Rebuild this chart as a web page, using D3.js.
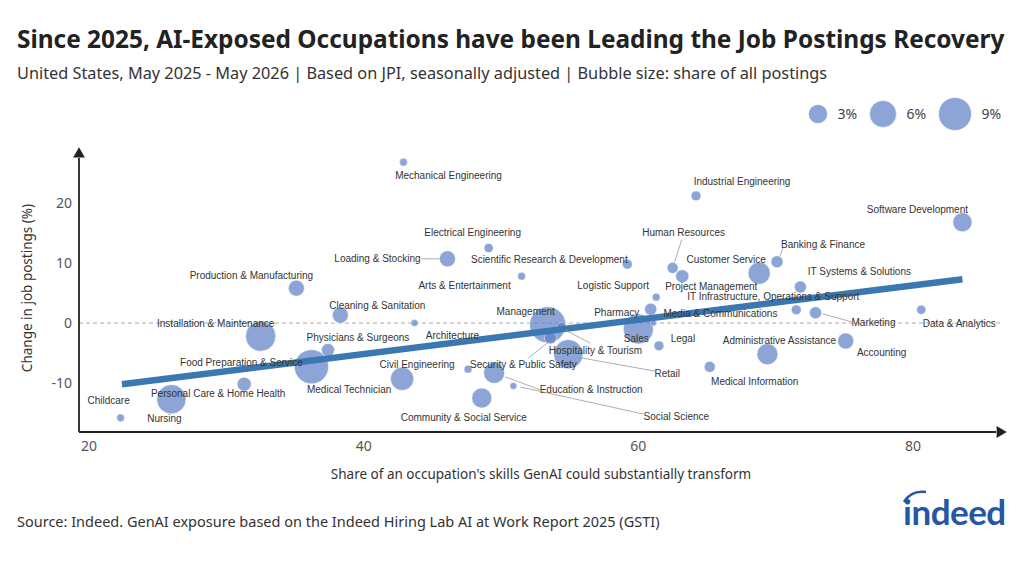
<!DOCTYPE html>
<html>
<head>
<meta charset="utf-8">
<script src="https://cdn.jsdelivr.net/npm/d3@7"></script>
<style>
  body { margin: 0; background: #fff; }
  svg { display: block; }
</style>
</head>
<body>
<svg id="chart" width="1024" height="585"></svg>
<script>
// occupation data
const occupations = [
  "Childcare", "Nursing", "Personal Care & Home Health", "Installation & Maintenance",
  "Food Preparation & Service", "Physicians & Surgeons", "Production & Manufacturing",
  "Cleaning & Sanitation", "Medical Technician", "Architecture", "Mechanical Engineering",
  "Loading & Stocking", "Electrical Engineering", "Arts & Entertainment",
  "Scientific Research & Development", "Civil Engineering", "Education & Instruction",
  "Social Science", "Community & Social Service", "Management", "Hospitality & Tourism",
  "Security & Public Safety", "Retail", "Sales", "Legal", "Pharmacy", "Logistic Support",
  "Media & Communications", "Human Resources", "Project Management", "Industrial Engineering",
  "Customer Service", "Banking & Finance", "IT Systems & Solutions",
  "IT Infrastructure, Operations & Support", "Marketing", "Data & Analytics",
  "Software Development", "Administrative Assistance", "Accounting", "Medical Information",
]
const aiExposure = [
  22.3, 26.0, 31.3, 32.5, 36.2, 37.4, 35.1, 38.3, 42.8, 43.7, 42.9,
  46.1, 49.1, 51.5, 59.2, 47.6, 49.5, 50.9, 48.6, 53.4, 54.4,
  53.6, 54.9, 60.0, 61.5, 60.9, 61.3, 61.1, 62.5, 63.2, 64.2,
  68.8, 70.1, 71.8, 71.5, 72.9, 80.6, 83.6, 69.4, 75.1, 65.2,
]
const postingsChange = [
  -15.8, -12.7, -10.2, -2.2, -7.3, -4.5, 5.8, 1.3, -9.3, 0.0, 26.8,
  10.7, 12.5, 7.8, 9.8, -7.7, -8.3, -10.5, -12.5, -0.3, -0.7,
  -2.5, -5.2, -1.0, -3.8, 2.3, 4.3, 0.0, 9.2, 7.8, 21.2,
  8.3, 10.2, 6.0, 2.2, 1.7, 2.2, 16.8, -5.2, -3.0, -7.3,
]
const postingShare = [
  0.5, 7.0, 1.6, 7.4, 9.6, 1.4, 2.1, 2.1, 4.4, 0.4, 0.5,
  2.1, 0.7, 0.5, 0.8, 0.5, 3.6, 0.4, 3.3, 10.7, 0.8,
  1.2, 7.0, 7.4, 0.8, 1.2, 0.5, 0.3, 1.0, 1.4, 0.8,
  4.0, 1.2, 1.2, 0.8, 1.2, 0.7, 3.0, 3.6, 2.1, 1.0,
]
const trendExposure = [22.4, 83.6]
const trendChange = [-10.2, 7.3]
const xTicks = [20, 40, 60, 80]
const yTicks = [-10, 0, 10, 20]
const legendShares = [3, 6, 9]

const TITLE = "Since 2025, AI-Exposed Occupations have been Leading the Job Postings Recovery"
const SUBTITLE = "United States, May 2025 - May 2026 | Based on JPI, seasonally adjusted | Bubble size: share of all postings"
const SOURCE = "Source: Indeed. GenAI exposure based on the Indeed Hiring Lab AI at Work Report 2025 (GSTI)"

// label placement (pixel offsets from bubble centre), and leader lines
const labelPos = {
  "Childcare": [-12, -17], "Nursing": [-7, 19], "Personal Care & Home Health": [-26, 9],
  "Installation & Maintenance": [-45, -13], "Food Preparation & Service": [-70, -4],
  "Physicians & Surgeons": [30, -13], "Production & Manufacturing": [-45, -13],
  "Cleaning & Sanitation": [37, -10], "Medical Technician": [-53, 11],
  "Architecture": [38, 12], "Mechanical Engineering": [45, 13],
  "Loading & Stocking": [-70, 0], "Electrical Engineering": [-16, -16],
  "Arts & Entertainment": [-57, 9], "Scientific Research & Development": [-78, -5],
  "Civil Engineering": [-51, -5], "Education & Instruction": [97, 17],
  "Social Science": [163, 30], "Community & Social Service": [-18, 19],
  "Management": [-22, -13], "Hospitality & Tourism": [34, 23],
  "Security & Public Safety": [-27, 26], "Retail": [99, 19], "Sales": [-2, 9],
  "Legal": [24, -7], "Pharmacy": [-34, 3], "Logistic Support": [-43, -12],
  "Media & Communications": [67, -10], "Human Resources": [11, -35],
  "Project Management": [29, 10], "Industrial Engineering": [46, -14],
  "Customer Service": [-33, -14], "Banking & Finance": [46, -17],
  "IT Systems & Solutions": [59, -16], "IT Infrastructure, Operations & Support": [-23, -13],
  "Marketing": [58, 10], "Data & Analytics": [38, 14], "Software Development": [-45, -13],
  "Administrative Assistance": [12, -14], "Accounting": [36, 11], "Medical Information": [45, 15],
}
const leaders = {
  "Loading & Stocking": [-26, 0, -8, 0],
  "Education & Instruction": [11, 4, 46, 17],
  "Social Science": [7, 1, 130, 28],
  "Hospitality & Tourism": [4, 3, 29, 16],
  "Security & Public Safety": [-2, 4, -22, 20],
  "Retail": [9, 3, 87, 17],
  "Human Resources": [2, -6, 9, -28],
  "Banking & Finance": [3, -6, 6, -14],
  "Marketing": [7, 1, 36, 9],
}

const svg = d3.select("#chart")
const sans = "'Noto Sans', 'Open Sans', sans-serif"
const arial = "'Liberation Sans', Arial, sans-serif"

const x = d3.scaleLinear().domain([20, 80]).range([89, 913])
const y = d3.scaleLinear().domain([-10, 20]).range([383, 203])
const r = d3.scaleSqrt().domain([0, 9]).range([0, 16.5])

const axisX0 = 79
const axisY0 = 432
const blue = "#5b7fc4"

// title block
svg.append("text").attr("x", 17).attr("y", 48)
  .attr("font-family", sans).attr("font-weight", "bold").attr("font-size", 24.4)
  .attr("fill", "#222").text(TITLE)
svg.append("text").attr("x", 17).attr("y", 79)
  .attr("font-family", sans).attr("font-size", 16.3).attr("fill", "#333").text(SUBTITLE)

// legend
const legendX = [818, 883, 955]
legendShares.forEach((s, i) => {
  svg.append("circle").attr("cx", legendX[i]).attr("cy", 114).attr("r", r(s))
    .attr("fill", blue).attr("fill-opacity", 0.7).attr("stroke", "#fff").attr("stroke-width", 0.6)
  svg.append("text").attr("x", legendX[i] + r(s) + 10).attr("y", 114).attr("dy", "0.35em")
    .attr("font-family", sans).attr("font-size", 14).attr("fill", "#444").text(s + "%")
})

// zero line
svg.append("line").attr("x1", axisX0).attr("x2", 1000).attr("y1", y(0)).attr("y2", y(0))
  .attr("stroke", "#aaa").attr("stroke-dasharray", "4,3")

// ticks
xTicks.forEach((t) => {
  svg.append("text").attr("x", x(t)).attr("y", 451).attr("text-anchor", "middle")
    .attr("font-family", sans).attr("font-size", 14).attr("fill", "#555").text(t)
})
yTicks.forEach((t) => {
  svg.append("text").attr("x", 72).attr("y", y(t)).attr("dy", "0.35em").attr("text-anchor", "end")
    .attr("font-family", sans).attr("font-size", 14).attr("fill", "#555").text(t)
})

// axis titles
svg.append("text").attr("x", 541).attr("y", 479).attr("text-anchor", "middle")
  .attr("font-family", sans).attr("font-size", 13.5).attr("fill", "#333")
  .text("Share of an occupation's skills GenAI could substantially transform")
svg.append("text").attr("transform", "translate(32, 288) rotate(-90)").attr("text-anchor", "middle")
  .attr("font-family", sans).attr("font-size", 13.5).attr("fill", "#333")
  .text("Change in job postings (%)")

// bubbles
const data = occupations.map((name, i) => ({
  name, ai: aiExposure[i], change: postingsChange[i], share: postingShare[i],
}))
svg.append("g").selectAll("circle")
  .data(data.slice().sort((a, b) => b.share - a.share))
  .join("circle")
  .attr("cx", (d) => x(d.ai)).attr("cy", (d) => y(d.change)).attr("r", (d) => r(d.share))
  .attr("fill", blue).attr("fill-opacity", 0.7)
  .attr("stroke", "#fff").attr("stroke-opacity", 0.7).attr("stroke-width", 0.6)

// trend line
svg.append("path")
  .attr("d", d3.line()(trendExposure.map((v, i) => [x(v), y(trendChange[i])])))
  .attr("stroke", "#3b77b0").attr("stroke-width", 6.5).attr("fill", "none")

// leader lines and labels
data.forEach((d) => {
  const cx = x(d.ai), cy = y(d.change)
  const ld = leaders[d.name]
  if (ld) {
    svg.append("line").attr("x1", cx + ld[0]).attr("y1", cy + ld[1])
      .attr("x2", cx + ld[2]).attr("y2", cy + ld[3])
      .attr("stroke", "#999").attr("stroke-width", 0.8)
  }
  const [dx, dy] = labelPos[d.name]
  svg.append("text").attr("x", cx + dx).attr("y", cy + dy).attr("dy", "0.35em")
    .attr("text-anchor", "middle").attr("font-family", arial).attr("font-size", 10)
    .attr("fill", "#333").text(d.name)
})

// axes with arrowheads
svg.append("path").attr("d", d3.line()([[axisX0, axisY0], [axisX0, 158]]))
  .attr("stroke", "#222").attr("stroke-width", 1.8)
svg.append("path").attr("d", d3.line()([[axisX0, axisY0], [996, axisY0]]))
  .attr("stroke", "#222").attr("stroke-width", 1.8)
svg.append("path").attr("fill", "#222")
  .attr("transform", `translate(${axisX0}, 154)`)
  .attr("d", d3.symbol(d3.symbolTriangle, 60)())
svg.append("path").attr("fill", "#222")
  .attr("transform", `translate(1000, ${axisY0}) rotate(90)`)
  .attr("d", d3.symbol(d3.symbolTriangle, 60)())

// source
svg.append("text").attr("x", 17).attr("y", 527)
  .attr("font-family", sans).attr("font-size", 14.5).attr("fill", "#333").text(SOURCE)

// indeed logo
const logo = svg.append("g").attr("transform", "translate(903, 525)")
logo.append("text").attr("x", 0).attr("y", 0)
  .attr("font-family", "'Lato', 'Noto Sans', sans-serif").attr("font-weight", "bold")
  .attr("font-size", 35).attr("fill", "#2557a7").attr("letter-spacing", -0.5).text("indeed")
logo.append("path").attr("d", "M1,-23 Q8,-35 23,-33")
  .attr("stroke", "#2557a7").attr("stroke-width", 2.5).attr("fill", "none")
</script>
</body>
</html>
